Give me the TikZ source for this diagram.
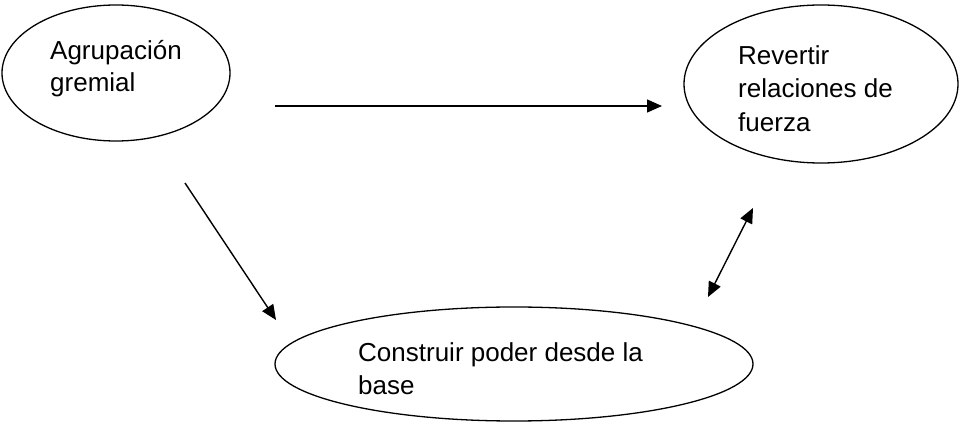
\documentclass[tikz,border=0pt]{standalone}
\usepackage{fontspec}
\setmainfont{Liberation Sans}
\usetikzlibrary{shapes.geometric,arrows.meta}
\begin{document}
\begin{tikzpicture}[x=1pt,y=-1pt,
  oval/.style={draw,ellipse,line width=1.3pt,inner sep=0pt},
  lbl/.style={anchor=base west,inner sep=0pt,align=left,font=\fontsize{26}{33}\selectfont},
  conn/.style={line width=1.4pt,-{Triangle[length=15pt,width=13pt]}},
  bconn/.style={line width=1.4pt,{Triangle[length=15pt,width=13pt]}-{Triangle[length=15pt,width=13pt]}}]
\useasboundingbox (0,0) rectangle (964,427);
\node[oval,minimum width=228pt,minimum height=136pt] (agr) at (116,73) {};
\node[oval,minimum width=274pt,minimum height=158pt] (rev) at (821,84) {};
\node[oval,minimum width=478pt,minimum height=114pt] (con) at (514,364) {};
\node[lbl] (tagr1) at (50,60) {Agrupación};
\node[lbl] (tagr2) at (50,92) {gremial};
\node[lbl] (trev1) at (738,65) {Revertir};
\node[lbl] (trev2) at (738,98) {relaciones de};
\node[lbl] (trev3) at (738,132) {fuerza};
\node[lbl] (tcon1) at (358,362) {Construir poder desde la};
\node[lbl] (tcon2) at (358,395) {base};
\coordinate (h1) at (275,106);
\coordinate (h2) at (662,106);
\coordinate (d1) at (185,183);
\coordinate (d2) at (276,320);
\coordinate (b1) at (708,297);
\coordinate (b2) at (753,208);
\draw[conn] (h1) -- (h2);
\draw[conn] (d1) -- (d2);
\draw[bconn] (b1) -- (b2);
\end{tikzpicture}
\end{document}
